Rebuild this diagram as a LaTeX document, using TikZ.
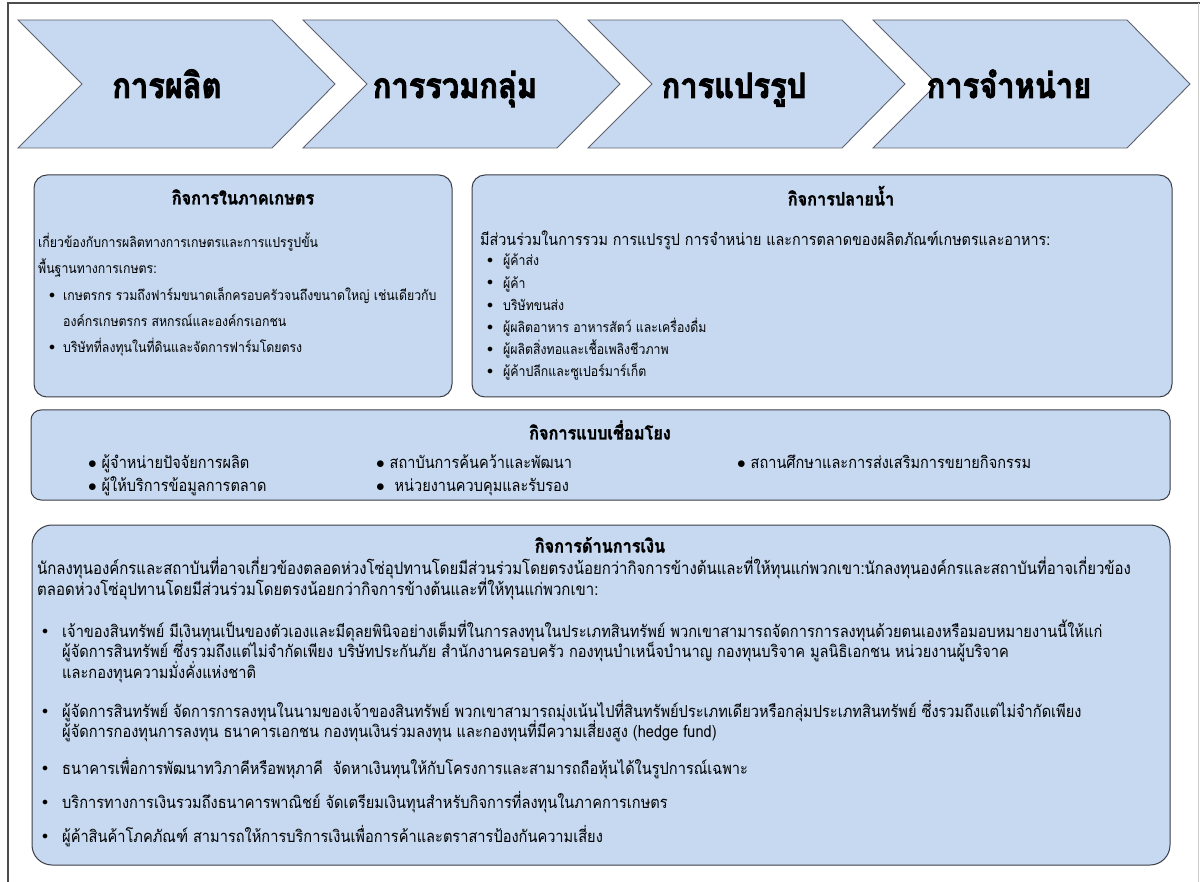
\documentclass[tikz,border=0pt]{standalone}
\usepackage{fontspec}
\newfontfamily\thai[Script=Thai,FakeStretch=0.88]{Loma}
\newfontfamily\thaib[Script=Thai,FakeStretch=0.88,FakeBold=1.5]{Loma Bold}
\newfontfamily\thaic[Script=Thai,FakeStretch=0.88,FakeBold=2.5]{Loma Bold}
\definecolor{boxfill}{RGB}{198,217,240}
\definecolor{boxline}{RGB}{60,62,72}
\definecolor{chevline}{RGB}{95,98,110}
\newcommand\bul{$\bullet$}
\begin{document}
\begin{tikzpicture}[x=1pt,y=-1pt,
  chev/.style={fill=boxfill,draw=chevline,line width=0.9pt,line join=miter},
  chevtext/.style={anchor=base,inner sep=0,yshift=-12pt,font=\thaic\fontsize{35}{35}\selectfont},
  rbox/.style={fill=boxfill,draw=boxline,line width=1pt},
  btitle/.style={anchor=base,inner sep=0,yshift=-6.5pt,font=\thaib\fontsize{18.5}{18.5}\selectfont},
  txt/.style={anchor=base west,inner sep=0,yshift=-5pt,font=\thai\fontsize{14}{14}\selectfont},
  txtb/.style={anchor=base west,inner sep=0,yshift=-5.6pt,font=\thai\fontsize{16.3}{16.3}\selectfont},
  txtc/.style={anchor=base west,inner sep=0,yshift=-5.8pt,font=\thai\fontsize{16.5}{16.5}\selectfont},
  txtd/.style={anchor=base west,inner sep=0,yshift=-5.8pt,font=\thai\fontsize{16.6}{16.6}\selectfont},
  txte/.style={txtd,font=\thai\fontsize{17}{17}\selectfont},
  dot/.style={font=\fontsize{12}{12}\selectfont,anchor=center,inner sep=0}]
\useasboundingbox (0,0) rectangle (1200,882);
\fill[white] (0,0) rectangle (1200,882);
% frame
\draw[line width=1.2pt,color=black!70] (8,882) -- (8,3) -- (1200,3);
\draw[line width=1pt,color=black!20] (1198,3) -- (1198,882);
% chevrons
\foreach \x/\n in {18/c1,303/c2,588/c3,873/c4}{
  \draw[chev] (\x,20) -- (\x+254,20) -- (\x+317,84) -- (\x+254,148) -- (\x,148) -- (\x+64,84) -- cycle;
}
\node[chevtext] (t1) at (167,86) {การผลิต};
\node[chevtext] (t2) at (455,86) {การรวมกลุ่ม};
\node[chevtext] (t3) at (734,86) {การแปรรูป};
\node[chevtext] (t4) at (1009,86) {การจำหน่าย};
% box A
\draw[rbox,rounded corners=13pt] (34,175) rectangle (452,397);
\node[btitle] (ta) at (243,198) {กิจการในภาคเกษตร};
\node[txt] (a1) at (38,243) {เกี่ยวข้องกับการผลิตทางการเกษตรและการแปรรูปขั้น};
\node[txt] (a2) at (38,269) {พื้นฐานทางการเกษตร:};
\node[dot] (ad1) at (52,296) {\bul};
\node[txt] (a3) at (63,296) {เกษตรกร รวมถึงฟาร์มขนาดเล็กครอบครัวจนถึงขนาดใหญ่ เช่นเดียวกับ};
\node[txt] (a4) at (63,322) {องค์กรเกษตรกร สหกรณ์และองค์กรเอกชน};
\node[dot] (ad2) at (52,348) {\bul};
\node[txt] (a5) at (63,348) {บริษัทที่ลงทุนในที่ดินและจัดการฟาร์มโดยตรง};
% box B
\draw[rbox,rounded corners=13pt] (472,175) rectangle (1172,397);
\node[btitle] (tb) at (841,199) {กิจการปลายน้ำ};
\node[txtb] (b0) at (480,240) {มีส่วนร่วมในการรวม การแปรรูป การจำหน่าย และการตลาดของผลิตภัณฑ์เกษตรและอาหาร:};
\foreach \t [count=\i from 0] in {ผู้ค้าส่ง,ผู้ค้า,บริษัทขนส่ง,ผู้ผลิตอาหาร อาหารสัตว์ และเครื่องดื่ม,ผู้ผลิตสิ่งทอและเชื้อเพลิงชีวภาพ,ผู้ค้าปลีกและซูเปอร์มาร์เก็ต}{
  \node[dot] (bd\i) at (490,261+22.2*\i) {\bul};
  \node[txt] (b\i) at (503,261+22.2*\i) {\t};
}
% box C
\draw[rbox,rounded corners=10pt] (31,410) rectangle (1170,500);
\node[btitle] (tc) at (600,433) {กิจการแบบเชื่อมโยง};
\node[txtc] (c1) at (88,463) {\bul\ ผู้จำหน่ายปัจจัยการผลิต};
\node[txtc] (c2) at (88,486) {\bul\ ผู้ให้บริการข้อมูลการตลาด};
\node[txtc] (c3) at (376,463) {\bul\ สถาบันการค้นคว้าและพัฒนา};
\node[txtc] (c4) at (376,486) {\bul\ \ หน่วยงานควบคุมและรับรอง};
\node[txtc] (c5) at (737,463) {\bul\ สถานศึกษาและการส่งเสริมการขยายกิจกรรม};
% box D
\draw[rbox,rounded corners=20pt] (32,525) rectangle (1170,865);
\node[btitle] (td) at (600,546) {กิจการด้านการเงิน};
\node[txte] (d0) at (37,569) {นักลงทุนองค์กรและสถาบันที่อาจเกี่ยวข้องตลอดห่วงโซ่อุปทานโดยมีส่วนร่วมโดยตรงน้อยกว่ากิจการข้างต้นและที่ให้ทุนแก่พวกเขา:นักลงทุนองค์กรและสถาบันที่อาจเกี่ยวข้อง};
\node[txte] (d00) at (37,590) {ตลอดห่วงโซ่อุปทานโดยมีส่วนร่วมโดยตรงน้อยกว่ากิจการข้างต้นและที่ให้ทุนแก่พวกเขา:};
\node[dot] (dd1) at (45,632) {\bul};
\node[txtd] (d1) at (62,632) {เจ้าของสินทรัพย์ มีเงินทุนเป็นของตัวเองและมีดุลยพินิจอย่างเต็มที่ในการลงทุนในประเภทสินทรัพย์ พวกเขาสามารถจัดการการลงทุนด้วยตนเองหรือมอบหมายงานนี้ให้แก่};
\node[txtd] (d1b) at (62,652) {ผู้จัดการสินทรัพย์ ซึ่งรวมถึงแต่ไม่จำกัดเพียง บริษัทประกันภัย สำนักงานครอบครัว กองทุนบำเหน็จบำนาญ กองทุนบริจาค มูลนิธิเอกชน หน่วยงานผู้บริจาค};
\node[txtd] (d1c) at (62,673) {และกองทุนความมั่งคั่งแห่งชาติ};
\node[dot] (dd2) at (45,712) {\bul};
\node[txtd] (d2) at (62,712) {ผู้จัดการสินทรัพย์ จัดการการลงทุนในนามของเจ้าของสินทรัพย์ พวกเขาสามารถมุ่งเน้นไปที่สินทรัพย์ประเภทเดียวหรือกลุ่มประเภทสินทรัพย์ ซึ่งรวมถึงแต่ไม่จำกัดเพียง};
\node[txtd] (d2b) at (62,732) {ผู้จัดการกองทุนการลงทุน ธนาคารเอกชน กองทุนเงินร่วมลงทุน และกองทุนที่มีความเสี่ยงสูง (hedge fund)};
\node[dot] (dd3) at (45,769) {\bul};
\node[txtd] (d3) at (62,769) {ธนาคารเพื่อการพัฒนาทวิภาคีหรือพหุภาคี\ \ จัดหาเงินทุนให้กับโครงการและสามารถถือหุ้นได้ในรูปการณ์เฉพาะ};
\node[dot] (dd4) at (45,803) {\bul};
\node[txtd] (d4) at (62,803) {บริการทางการเงินรวมถึงธนาคารพาณิชย์ จัดเตรียมเงินทุนสำหรับกิจการที่ลงทุนในภาคการเกษตร};
\node[dot] (dd5) at (45,837) {\bul};
\node[txtd] (d5) at (62,837) {ผู้ค้าสินค้าโภคภัณฑ์ สามารถให้การบริการเงินเพื่อการค้าและตราสารป้องกันความเสี่ยง};
\end{tikzpicture}
\end{document}
